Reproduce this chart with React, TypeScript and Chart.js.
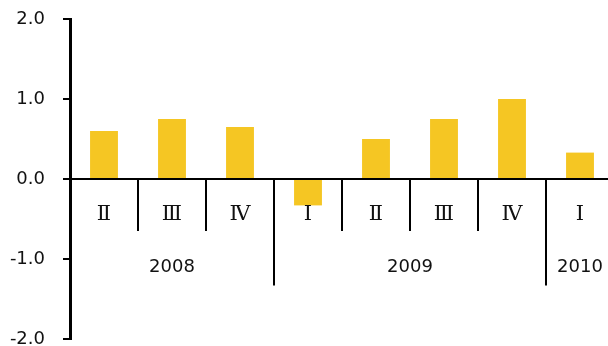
import React, { useEffect, useRef } from "react";
import { Chart, registerables } from "chart.js";

Chart.register(...registerables);

const quarters = ["Ⅱ", "Ⅲ", "Ⅳ", "Ⅰ", "Ⅱ", "Ⅲ", "Ⅳ", "Ⅰ"];
const years = ["2008", "2008", "2008", "2009", "2009", "2009", "2009", "2010"];
const values = [0.6, 0.75, 0.65, -0.33, 0.5, 0.75, 1.0, 0.33];
const yTicks = [-2, -1, 0, 1, 2];

const FONT = "DejaVu Sans";
const QFONT = "DejaVu Serif";

const groupPlugin = {
  id: "groupLabels",
  afterDraw(chart: any) {
    const ctx = chart.ctx;
    const x = chart.scales.x;
    const y = chart.scales.y;
    const n = quarters.length;
    const step = n > 1 ? x.getPixelForValue(1) - x.getPixelForValue(0) : 0;
    const y0 = y.getPixelForValue(0);
    const yQ = y.getPixelForValue(-0.65);
    const yY = y.getPixelForValue(-1.33);
    ctx.save();
    ctx.strokeStyle = "#000";
    ctx.lineWidth = 2;
    for (let i = 1; i < n; i++) {
      const bx = Math.round(x.getPixelForValue(i) - step / 2);
      const isYear = years[i] !== years[i - 1];
      ctx.beginPath();
      ctx.moveTo(bx, y0);
      ctx.lineTo(bx, isYear ? yY : yQ);
      ctx.stroke();
    }
    ctx.fillStyle = "#111";
    ctx.textAlign = "center";
    ctx.textBaseline = "middle";
    ctx.font = `21px "${QFONT}"`;
    const qy = y.getPixelForValue(-0.45);
    for (let i = 0; i < n; i++) {
      ctx.fillText(quarters[i], x.getPixelForValue(i), qy);
    }
    ctx.font = `18px "${FONT}"`;
    const yy = y.getPixelForValue(-1.1);
    let start = 0;
    for (let i = 1; i <= n; i++) {
      if (i === n || years[i] !== years[start]) {
        const cx = (x.getPixelForValue(start) + x.getPixelForValue(i - 1)) / 2;
        ctx.fillText(years[start], cx, yy);
        start = i;
      }
    }
    ctx.restore();
  },
};

export default function App() {
  const ref = useRef<HTMLCanvasElement>(null);
  useEffect(() => {
    if (!ref.current) return;
    const chart = new Chart(ref.current, {
      type: "bar",
      data: {
        labels: quarters.map((q, i) => `${years[i]} ${q}`),
        datasets: [
          {
            data: values,
            backgroundColor: "#F5C623",
            borderWidth: 0,
            categoryPercentage: 1,
            barPercentage: 0.41,
          },
        ],
      },
      options: {
        responsive: false,
        animation: false,
        devicePixelRatio: 1,
        layout: { padding: { left: 0, right: 6, top: 19, bottom: 21 } },
        plugins: { legend: { display: false }, tooltip: { enabled: false } },
        scales: {
          x: { display: false },
          y: {
            min: -2,
            max: 2,
            afterBuildTicks(scale: any) {
              scale.ticks = yTicks.map((v) => ({ value: v }));
            },
            afterFit(scale: any) {
              scale.width = 70;
              scale.paddingTop = 0;
              scale.paddingBottom = 0;
            },
            border: { display: true, color: "#000", width: 3 },
            grid: {
              drawOnChartArea: true,
              color: (c: any) => (c.tick && c.tick.value === 0 ? "#000" : "rgba(0,0,0,0)"),
              lineWidth: 2,
              tickColor: "#000",
              tickLength: 7,
              tickWidth: 2,
            },
            ticks: {
              padding: 18,
              color: "#111",
              font: { family: FONT, size: 18 },
              callback: (v: any) => Number(v).toFixed(1),
            },
          },
        },
      },
      plugins: [groupPlugin],
    });
    return () => chart.destroy();
  }, []);
  return (
    <div style={{ position: "absolute", left: 0, top: 0, width: 608, height: 346, overflow: "hidden", background: "#fff" }}>
      <canvas ref={ref} width={620} height={360} style={{ display: "block" }} />
    </div>
  );
}
